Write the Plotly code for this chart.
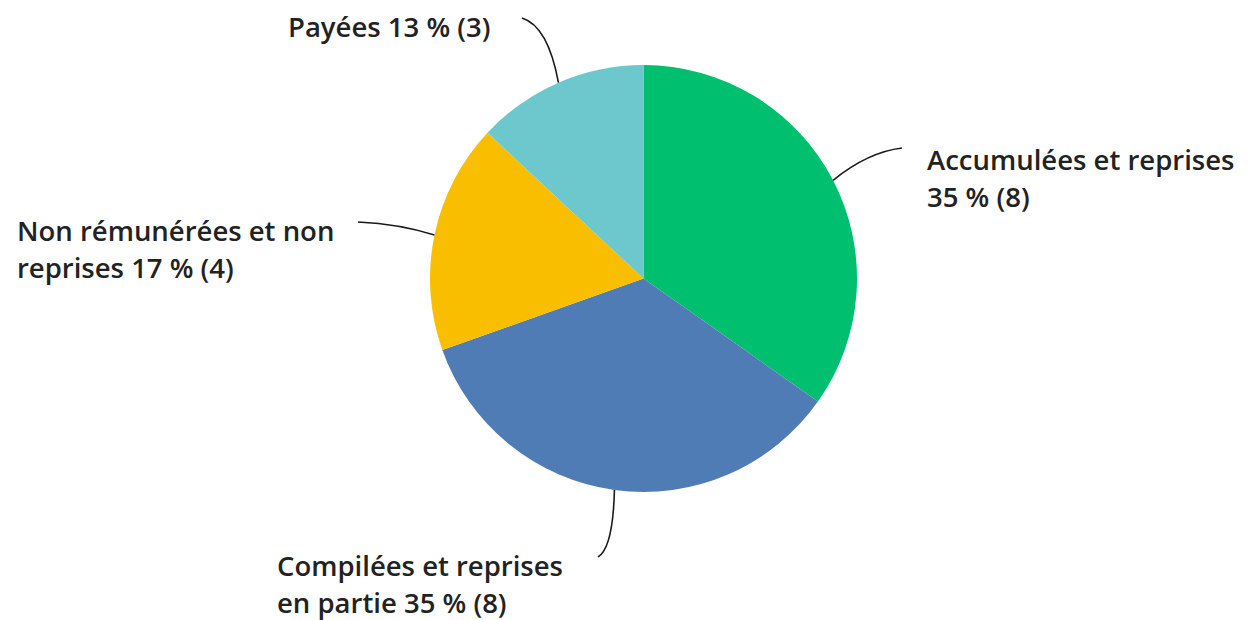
import plotly.graph_objects as go
import math

# ---- data ----
categories = ["Accumulées et reprises", "Compilées et reprises en partie",
              "Non rémunérées et non reprises", "Payées"]
counts = [8, 8, 4, 3]
colors = ["#00BF6F", "#507CB6", "#F9BE00", "#6CC8CC"]
# how each label is broken into lines ({p} = percent, {n} = count)
label_lines = [
    ["Accumulées et reprises", "{p} % ({n})"],
    ["Compilées et reprises", "en partie {p} % ({n})"],
    ["Non rémunérées et non", "reprises {p} % ({n})"],
    ["Payées {p} % ({n})"],
]

W, H = 1251, 620
CX, CY, R = 643.5, 278.5, 213.5

def px(x):
    return x / W

def py(y):
    return 1 - y / H

fig = go.Figure(go.Pie(
    labels=categories, values=counts, sort=False, direction="clockwise",
    rotation=0, marker=dict(colors=colors, line=dict(width=0)),
    textinfo="none", hoverinfo="label+value+percent", showlegend=False,
    domain=dict(x=[px(CX - R), px(CX + R)], y=[py(CY + R), py(CY - R)]),
))

total = sum(counts)
# label placement (pixel): text left x, first line centre y, leader end, control pt
placement = [
    dict(tx=926, ty=159, end=(902, 148), ctrl=(868, 152)),
    dict(tx=276, ty=565, end=(598, 557), ctrl=(613, 548)),
    dict(tx=16, ty=230, end=(358, 222), ctrl=(400, 224)),
    dict(tx=287, ty=26, end=(522, 18), ctrl=(548, 26)),
]
LINE_H = 37

annotations = []
shapes = []
cum = 0
for i, (name, n) in enumerate(zip(categories, counts)):
    mid = (cum + n / 2) / total * 2 * math.pi
    cum += n
    sx = CX + R * math.sin(mid)
    sy = CY - R * math.cos(mid)
    pl = placement[i]
    ex, ey = pl["end"]
    cx_, cy_ = pl["ctrl"]
    path = (f"M {px(sx)} {py(sy)} Q {px(cx_)} {py(cy_)} {px(ex)} {py(ey)}")
    shapes.append(dict(type="path", path=path, xref="paper", yref="paper",
                       line=dict(color="#1a1a1a", width=1.6)))
    pct = round(n / total * 100)
    for j, line in enumerate(label_lines[i]):
        annotations.append(dict(
            text=line.format(p=pct, n=n), x=px(pl["tx"]), y=py(pl["ty"] + j * LINE_H),
            xref="paper", yref="paper", xanchor="left", yanchor="middle",
            showarrow=False, borderpad=0,
            font=dict(family="Open Sans", size=27.5, color="#222222", weight=600),
        ))

fig.update_layout(
    width=W, height=H, margin=dict(l=0, r=0, t=0, b=0),
    paper_bgcolor="white", plot_bgcolor="white",
    annotations=annotations, shapes=shapes,
)
fig.write_html("out.html", config={"displayModeBar": False},
               post_script="document.body.style.margin='0px';")
